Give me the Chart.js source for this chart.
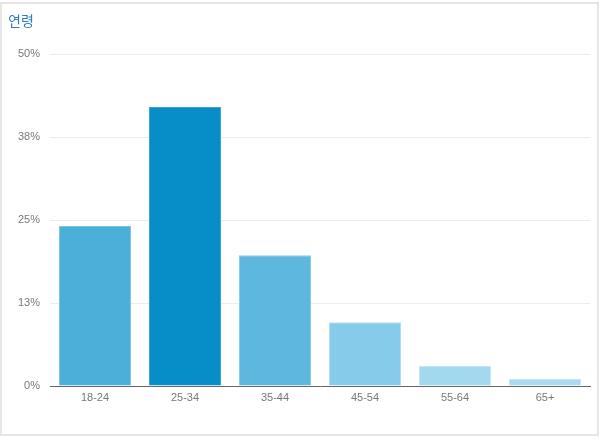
<!DOCTYPE html>
<html>
<head>
<meta charset="utf-8">
<script src="https://cdn.jsdelivr.net/npm/chart.js@4"></script>
<style>
  body { margin: 0; background: #fff; }
  #wrap { position: relative; width: 600px; height: 440px; }
  #frame { position: absolute; left: 0; top: 2px; width: 595px; height: 430px; border: 2px solid #e6e6e6; box-sizing: content-box; pointer-events: none; }
  #title { position: absolute; left: 8px; top: 10px; font: 14px "Noto Sans CJK KR", "Noto Sans", sans-serif; color: #2b7bc6; }
</style>
</head>
<body>
<div id="wrap">
  <canvas id="ageChart" width="600" height="440"></canvas>
  <div id="frame"></div>
  <div id="title">연령</div>
</div>
<script>
// 연령대별 비율 (%)
const ageGroups = ["18-24", "25-34", "35-44", "45-54", "55-64", "65+"];
const sharePct = [24.1, 42.0, 19.7, 9.6, 3.0, 1.05];
const yTicks = [0, 12.5, 25, 37.5, 50];
const barColors = ["#4cafd9", "#078dc8", "#5db7df", "#87cbea", "#a2d9ef", "#a8dbf1"];
const barEdges = ["#7cc6e6", "#3aa6d6", "#8accea", "#aedcf1", "#c2e6f5", "#c6e8f6"];

const ctx = document.getElementById("ageChart").getContext("2d");
new Chart(ctx, {
  type: "bar",
  data: {
    labels: ageGroups,
    datasets: [{
      data: sharePct,
      backgroundColor: barColors,
      borderColor: barEdges,
      borderWidth: 1,
      categoryPercentage: 1,
      barPercentage: 0.8
    }]
  },
  options: {
    responsive: false,
    animation: false,
    layout: { padding: { left: 0, right: 10, top: 54, bottom: 0 } },
    plugins: { legend: { display: false }, tooltip: { enabled: false } },
    scales: {
      x: {
        grid: { display: false, drawTicks: false },
        border: { color: "#666", width: 1 },
        ticks: { color: "#777", font: { family: "Arial", size: 11 }, padding: 5 },
        afterFit: function (scale) { scale.height = 54; }
      },
      y: {
        min: 0,
        max: 50,
        afterBuildTicks: function (scale) { scale.ticks = yTicks.map(v => ({ value: v })); },
        grid: { color: "#ececec", drawTicks: false },
        border: { display: false },
        ticks: {
          color: "#777",
          font: { family: "Arial", size: 11 },
          padding: 10,
          callback: function (v) { return Math.round(v) + "%"; }
        },
        afterFit: function (scale) { scale.width = 50; }
      }
    }
  }
});
</script>
</body>
</html>
